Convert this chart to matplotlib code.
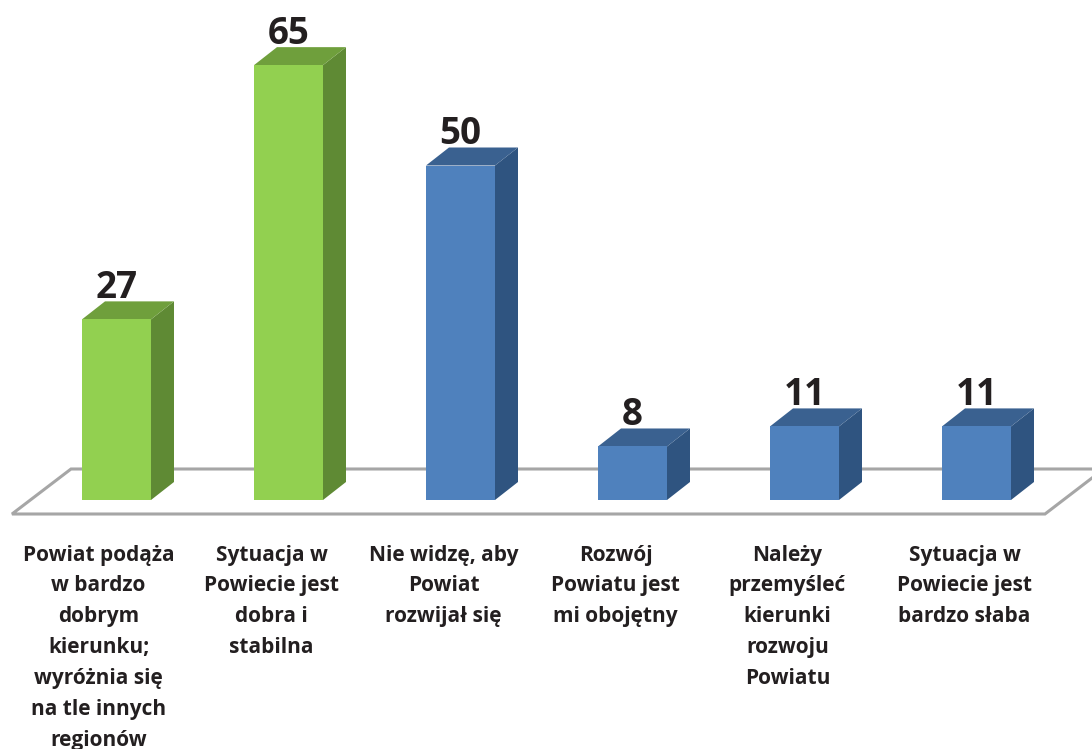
import matplotlib
matplotlib.use('Agg')
import matplotlib.pyplot as plt
from matplotlib.patches import Polygon

# donnees
categories = ['Powiat podąża\nw bardzo\ndobrym\nkierunku;\nwyróżnia się\nna tle innych\nregionów',
              'Sytuacja w\nPowiecie jest\ndobra i\nstabilna',
              'Nie widzę, aby\nPowiat\nrozwijał się',
              'Rozwój\nPowiatu jest\nmi obojętny',
              'Należy\nprzemyśleć\nkierunki\nrozwoju\nPowiatu',
              'Sytuacja w\nPowiecie jest\nbardzo słaba']
values = [27, 65, 50, 8, 11, 11]
front_colors = ['#92d050', '#92d050', '#4f81bd', '#4f81bd', '#4f81bd', '#4f81bd']
top_colors = ['#6f9f3c', '#6f9f3c', '#3a6190', '#3a6190', '#3a6190', '#3a6190']
side_colors = ['#5f8a34', '#5f8a34', '#2f5480', '#2f5480', '#2f5480', '#2f5480']

# echelle : 172 px entre deux barres, 6.69 px par unite
px_x = 172.0
px_y = 6.69
W = 1092.0
H = 749.0
x0 = 116.5
y0 = 500.0


def X(p):
    return (p - x0) / px_x


def Y(p):
    return (y0 - p) / px_y


fig = plt.figure(figsize=(10.92, 7.49), dpi=100)
ax = fig.add_axes([0, 0, 1, 1])
ax.set_xlim(X(0), X(W))
ax.set_ylim(Y(H), Y(0))
ax.axis('off')

bar_w = 69 / px_x
dx = 23 / px_x
dy = 18 / px_y
floor_color = '#a6a6a6'

# le plancher
ax.plot([X(1092), X(71), X(12), X(1045), X(1092)],
        [Y(469), Y(469), Y(514), Y(514), Y(478)],
        color=floor_color, lw=2.2, solid_joinstyle='miter', zorder=1)

# les barres
for i, v in enumerate(values):
    l = i - bar_w / 2
    r = i + bar_w / 2
    ax.add_patch(Polygon([(r, 0), (r + dx, dy), (r + dx, v + dy), (r, v)],
                         fc=side_colors[i], ec='none', zorder=2))
    ax.add_patch(Polygon([(l, v), (r, v), (r + dx, v + dy), (l + dx, v + dy)],
                         fc=top_colors[i], ec='none', zorder=2))
    ax.bar(i, v, width=bar_w, color=front_colors[i], edgecolor='none', zorder=3)
    ax.text(i, v + dy + 0.5, str(v), ha='center', va='baseline', fontsize=26.5,
            fontweight='bold', family='Open Sans', color='#231f20', zorder=4)

# les etiquettes
label_offset = [-18, -17, -17, -17, -17, -12]
for i, c in enumerate(categories):
    ax.text(i + label_offset[i] / px_x, Y(544.5), c, ha='center', va='top', fontsize=15,
            fontweight='bold', family='Open Sans', color='#231f20', linespacing=1.62)

fig.savefig('out.png', dpi=100)
